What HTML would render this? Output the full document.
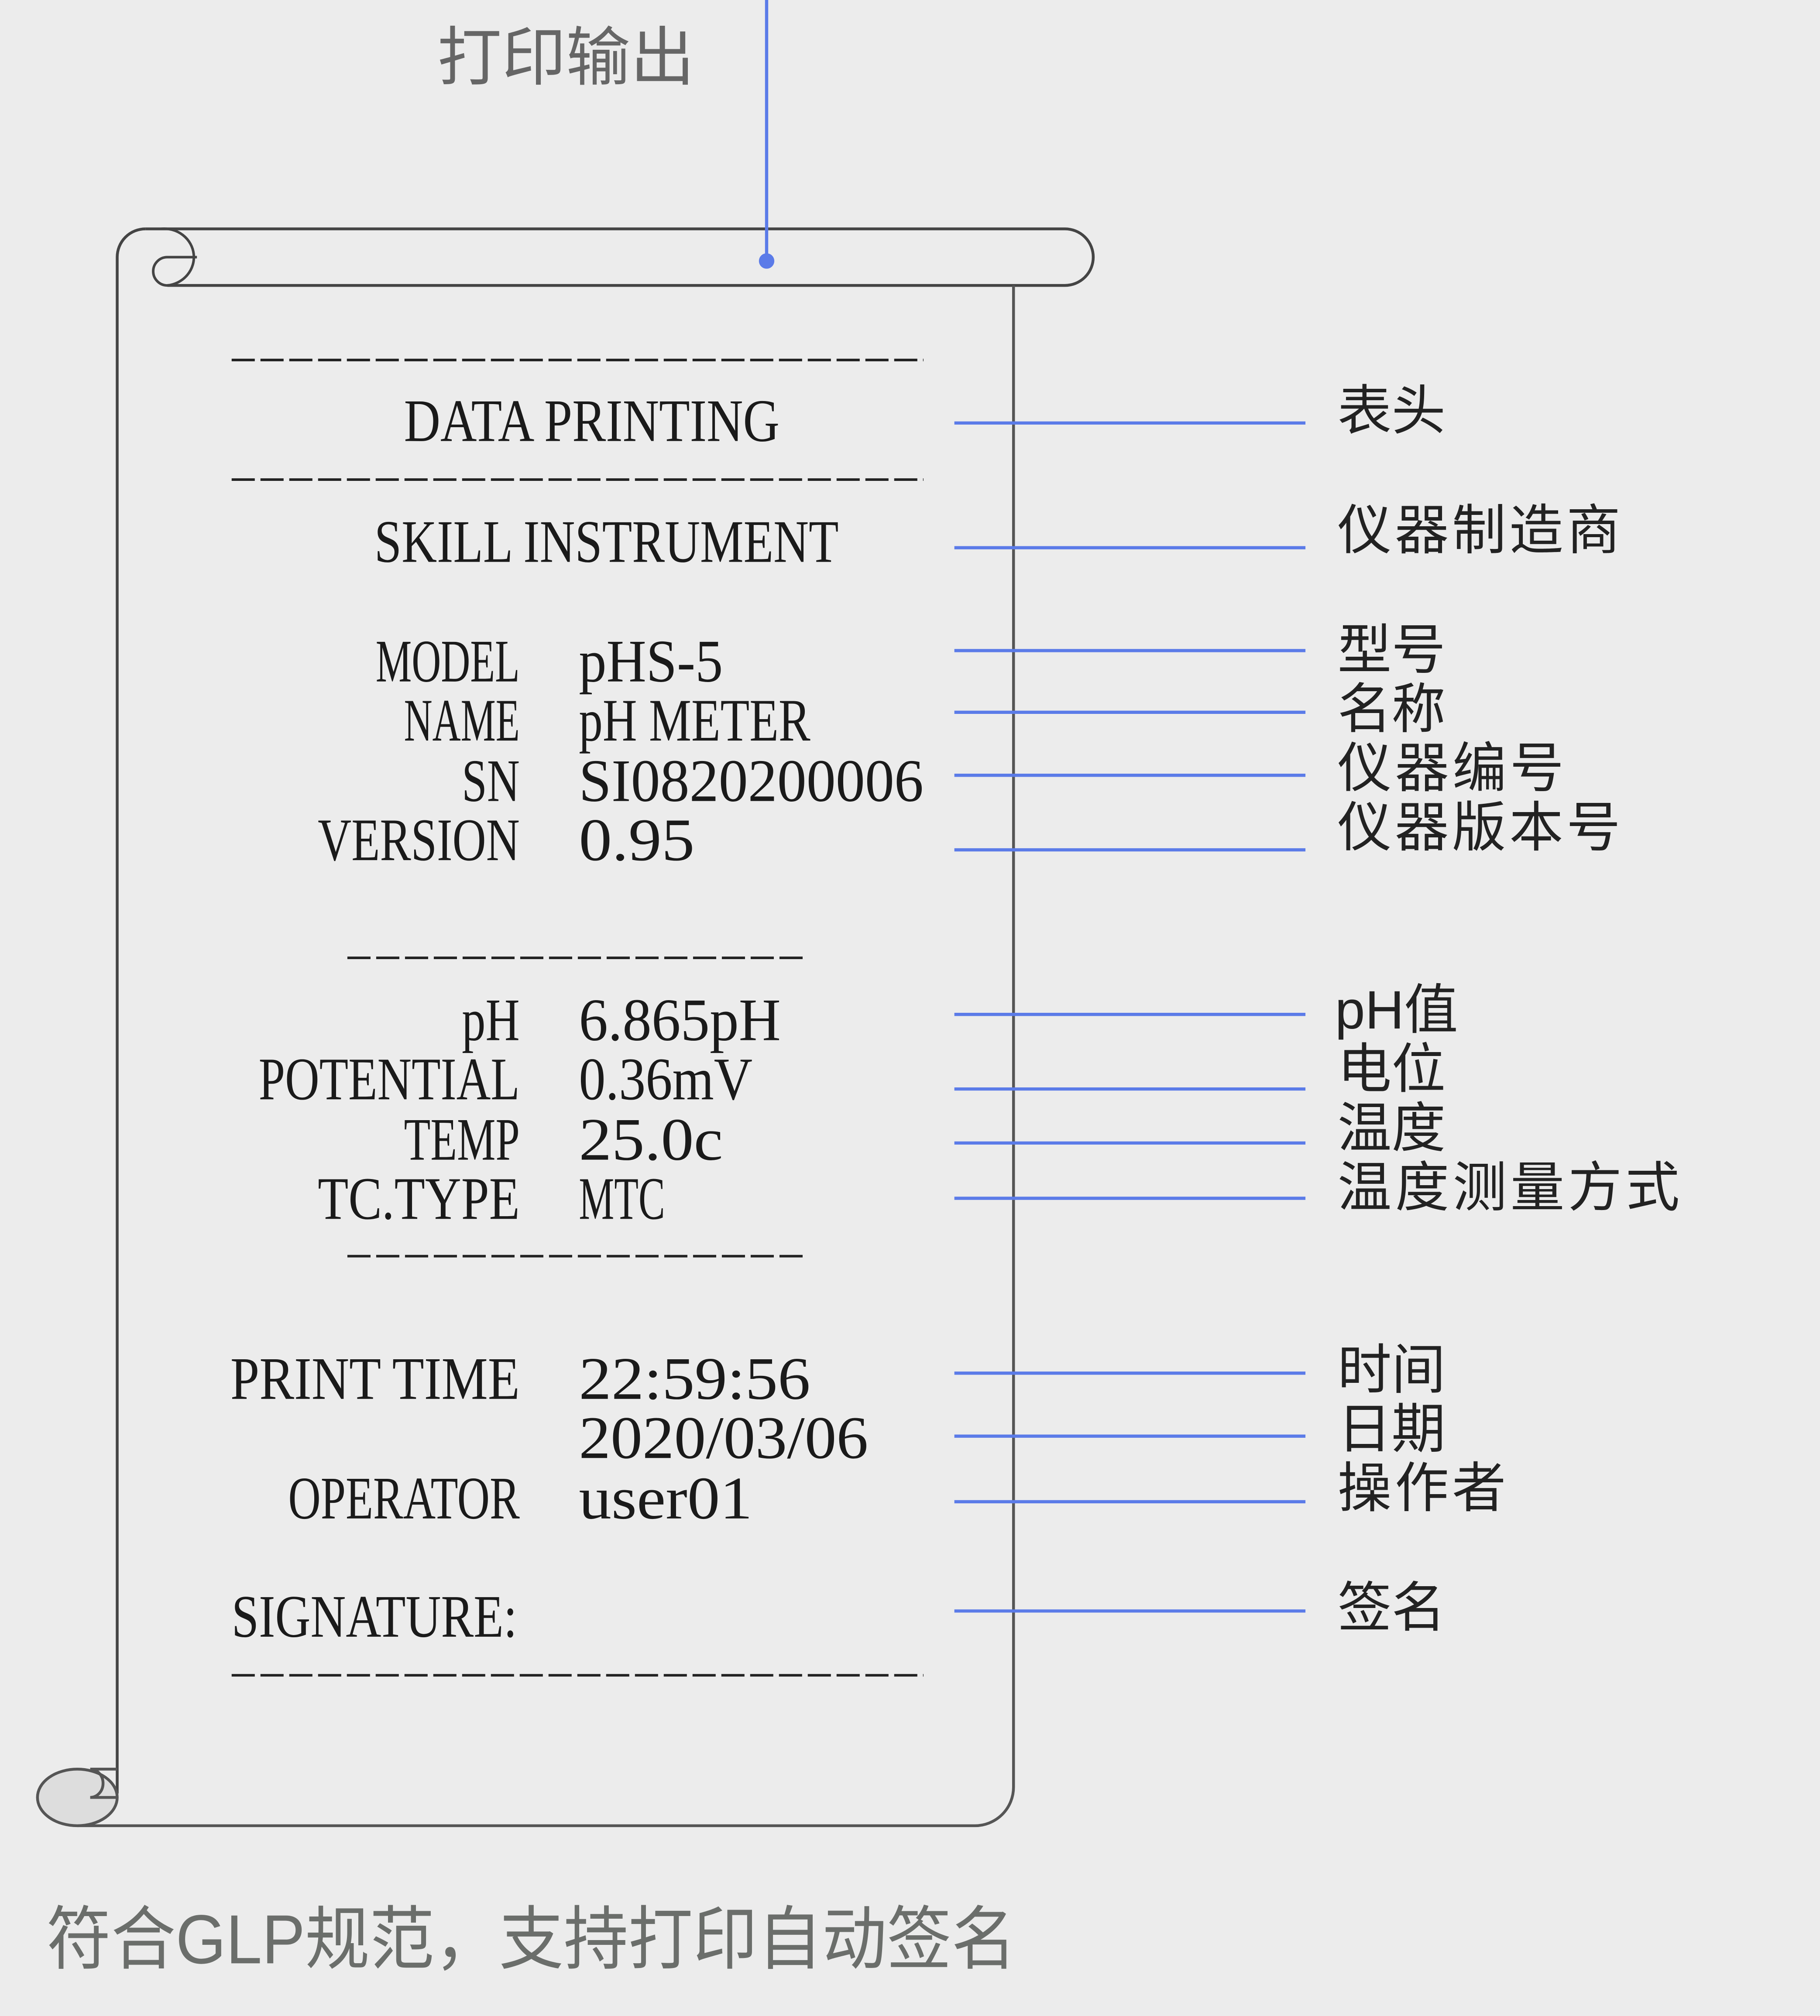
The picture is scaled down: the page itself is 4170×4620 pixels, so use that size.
<!DOCTYPE html>
<html><head><meta charset="utf-8"><style>
html,body{margin:0;padding:0;background:#ececec;}
svg{display:block}
.m{font-family:"Liberation Serif","Noto Serif CJK SC",serif;font-size:47px;fill:#1a1a1a;}
.c{font-family:"Liberation Sans","Noto Sans CJK SC",sans-serif;font-size:42px;fill:#222;}
</style></head><body>
<svg width="4170" height="4620" viewBox="0 0 1415 1568" xmlns="http://www.w3.org/2000/svg">
<rect width="1415" height="1568" fill="#ececec"/>
<text x="340" y="62" font-family="Liberation Sans,Noto Sans CJK SC,sans-serif" font-size="50" fill="#666" textLength="200">打印输出</text>
<g fill="none" stroke="#444" stroke-width="2.2">
<path d="M113 178 H828 A22 22 0 0 1 828 222 H130"/>
<path d="M91 1395 V200 A22 22 0 0 1 113 178"/>
<path d="M125 178 A23 22 0 0 1 130 222 A11 11 0 0 1 130 200 H153" stroke-width="2"/>
<path d="M788 222 V1390 A30 30 0 0 1 758 1420 H60" stroke="#555"/>
<ellipse cx="60" cy="1398" rx="31" ry="22" fill="#ddd" stroke="#555"/>
<path d="M91 1376 H70 A10 11 0 0 1 70 1398 H91" stroke="#555"/>
</g>
<line x1="596" y1="0" x2="596" y2="203" stroke="#5b7be8" stroke-width="2.5"/>
<circle cx="596" cy="203" r="6" fill="#5b7be8"/>
<g stroke="#222" stroke-width="2" stroke-dasharray="18 4.4">
<line x1="180" y1="280" x2="718" y2="280"/>
<line x1="180" y1="373" x2="718" y2="373"/>
<line x1="270" y1="745" x2="628" y2="745"/>
<line x1="270" y1="977" x2="628" y2="977"/>
<line x1="180" y1="1303" x2="718" y2="1303"/>
</g>
<g class="m">
<text x="314" y="343" textLength="292" lengthAdjust="spacingAndGlyphs">DATA PRINTING</text>
<text x="291" y="437" textLength="361" lengthAdjust="spacingAndGlyphs">SKILL INSTRUMENT</text>
<g text-anchor="end">
<text x="404" y="530" textLength="112" lengthAdjust="spacingAndGlyphs">MODEL</text>
<text x="404" y="576" textLength="90" lengthAdjust="spacingAndGlyphs">NAME</text>
<text x="404" y="623" textLength="45" lengthAdjust="spacingAndGlyphs">SN</text>
<text x="404" y="669" textLength="157" lengthAdjust="spacingAndGlyphs">VERSION</text>
<text x="404" y="809" textLength="45" lengthAdjust="spacingAndGlyphs">pH</text>
<text x="404" y="855" textLength="203" lengthAdjust="spacingAndGlyphs">POTENTIAL</text>
<text x="404" y="902" textLength="90" lengthAdjust="spacingAndGlyphs">TEMP</text>
<text x="404" y="948" textLength="157" lengthAdjust="spacingAndGlyphs">TC.TYPE</text>
<text x="404" y="1088" textLength="225" lengthAdjust="spacingAndGlyphs">PRINT TIME</text>
<text x="404" y="1181" textLength="180" lengthAdjust="spacingAndGlyphs">OPERATOR</text>
</g>
<text x="450" y="530" textLength="112" lengthAdjust="spacingAndGlyphs">pHS-5</text>
<text x="450" y="576" textLength="180" lengthAdjust="spacingAndGlyphs">pH METER</text>
<text x="450" y="623" textLength="268" lengthAdjust="spacingAndGlyphs">SI0820200006</text>
<text x="450" y="669" textLength="90" lengthAdjust="spacingAndGlyphs">0.95</text>
<text x="450" y="809" textLength="157" lengthAdjust="spacingAndGlyphs">6.865pH</text>
<text x="450" y="855" textLength="135" lengthAdjust="spacingAndGlyphs">0.36mV</text>
<text x="450" y="902" textLength="112" lengthAdjust="spacingAndGlyphs">25.0c</text>
<text x="450" y="948" textLength="67" lengthAdjust="spacingAndGlyphs">MTC</text>
<text x="450" y="1088" textLength="180" lengthAdjust="spacingAndGlyphs">22:59:56</text>
<text x="450" y="1134" textLength="225" lengthAdjust="spacingAndGlyphs">2020/03/06</text>
<text x="450" y="1181" textLength="135" lengthAdjust="spacingAndGlyphs">user01</text>
<text x="180" y="1273" textLength="222" lengthAdjust="spacingAndGlyphs">SIGNATURE:</text>
</g>
<g stroke="#5b7be8" stroke-width="2.5">
<line x1="742" y1="329" x2="1015" y2="329"/>
<line x1="742" y1="426" x2="1015" y2="426"/>
<line x1="742" y1="506" x2="1015" y2="506"/>
<line x1="742" y1="554" x2="1015" y2="554"/>
<line x1="742" y1="603" x2="1015" y2="603"/>
<line x1="742" y1="661" x2="1015" y2="661"/>
<line x1="742" y1="789" x2="1015" y2="789"/>
<line x1="742" y1="847" x2="1015" y2="847"/>
<line x1="742" y1="889" x2="1015" y2="889"/>
<line x1="742" y1="932" x2="1015" y2="932"/>
<line x1="742" y1="1068" x2="1015" y2="1068"/>
<line x1="742" y1="1117" x2="1015" y2="1117"/>
<line x1="742" y1="1168" x2="1015" y2="1168"/>
<line x1="742" y1="1253" x2="1015" y2="1253"/>
</g>
<g class="c">
<text x="1040" y="334">表头</text>
<text x="1040" y="427" textLength="220">仪器制造商</text>
<text x="1040" y="520">型号</text>
<text x="1040" y="566">名称</text>
<text x="1040" y="612" textLength="176">仪器编号</text>
<text x="1040" y="658" textLength="220">仪器版本号</text>
<text x="1038" y="800">pH值</text>
<text x="1040" y="846">电位</text>
<text x="1040" y="892">温度</text>
<text x="1040" y="938" textLength="266">温度测量方式</text>
<text x="1040" y="1080">时间</text>
<text x="1040" y="1126">日期</text>
<text x="1040" y="1172" textLength="131">操作者</text>
<text x="1040" y="1265">签名</text>
</g>
<text x="36" y="1527" font-family="Liberation Sans,Noto Sans CJK SC,sans-serif" font-size="54" fill="#6b6e6b" textLength="754" lengthAdjust="spacingAndGlyphs">符合GLP规范，支持打印自动签名</text>
</svg>
</body></html>
